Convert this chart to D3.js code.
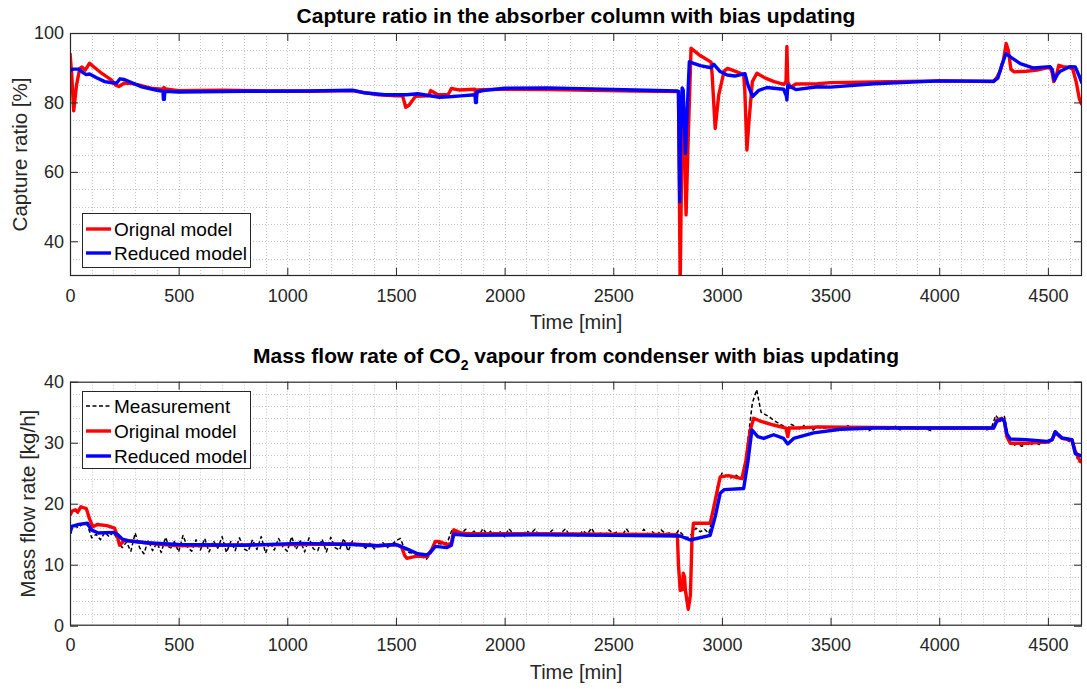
<!DOCTYPE html>
<html>
<head>
<meta charset="utf-8">
<script src="https://cdn.jsdelivr.net/npm/d3@7"></script>
<style>
  html, body { margin: 0; padding: 0; background: #fff; }
  svg { display: block; font-family: "Liberation Sans", Arial, Helvetica, sans-serif; }
</style>
</head>
<body>
<svg id="chart" width="1087" height="689"></svg>
<script>
// ---------------- DATA ----------------
const xTicks = [0, 500, 1000, 1500, 2000, 2500, 3000, 3500, 4000, 4500];
const topYTicks = [40, 60, 80, 100];
const botYTicks = [0, 10, 20, 30, 40];

// Top panel: capture ratio [%]
const capOrigT = [0,8,17,30,45,55,70,90,110,150,190,210,225,250,280,320,380,425,432,440,500,700,900,1100,1300,1350,1420,1500,1530,1545,1560,1590,1650,1660,1672,1690,1740,1755,1790,1864,1868,1874,1900,2000,2200,2400,2600,2800,2808,2818,2826,2835,2845,2858,2870,2900,2950,2955,2969,2985,3010,3026,3060,3100,3105,3115,3125,3140,3161,3200,3240,3285,3295,3299,3303,3314,3340,3440,3500,3700,4000,4250,4265,4280,4295,4308,4318,4330,4345,4400,4450,4510,4520,4527,4540,4550,4570,4600,4615,4630,4645,4657];
const capOrigV = [94.2,88,77.6,85,89.8,90.2,89.3,91.3,90.2,88.2,86.5,85.0,84.6,85.6,85.5,85.0,84.0,83.8,84.3,83.9,83.4,83.5,83.3,83.2,83.4,82.9,82.2,81.9,82.0,78.6,79.2,81.8,81.9,83.4,83.0,82.3,82.2,84.0,83.6,83.8,80.5,83.6,83.7,83.8,83.7,83.5,83.3,83.1,28,80,72,47.6,70,95.6,95.0,93.5,91.6,88,72.5,82,89,89.8,89,88.0,84,66.3,75,86,88.4,87.0,86.0,85.2,86,96.1,86,84.3,85.3,85.4,85.7,85.9,86.2,86.0,87.2,89,92,97.0,95,89.5,88.8,89.0,89.3,90.2,88.5,86.0,88.0,90.7,90.3,90.1,89.5,86,81,79.3];
const capRedT = [0,15,40,60,75,90,120,160,200,215,230,250,280,330,400,428,430,434,436,500,800,1100,1300,1350,1450,1550,1600,1650,1700,1760,1800,1864,1866,1870,1872,1900,2000,2200,2400,2600,2795,2800,2806,2810,2817,2822,2832,2850,2900,2950,2962,2990,3024,3060,3106,3120,3141,3170,3207,3250,3284,3296,3299,3303,3315,3340,3440,3500,3700,4000,4250,4270,4290,4308,4330,4373,4434,4510,4520,4530,4545,4557,4600,4626,4645,4657];
const capRedV = [89.2,89.6,89.6,88.6,88.0,88.2,87.2,86.0,85.6,85.6,86.8,86.6,85.8,84.5,83.5,83.2,80.9,80.9,83.2,83.0,83.2,83.3,83.5,82.8,82.2,82.2,82.5,82.0,81.5,81.7,81.9,82.2,80.0,80.0,83.0,83.4,84.1,84.2,83.9,83.6,83.3,83.2,51.4,70,84.2,83.5,65.3,91.7,90.6,90.0,91.0,89.0,87.9,87.6,88.3,85,81.7,83.5,84.3,84.0,83.8,82,80.7,85,84.5,83.7,84.5,84.4,85.4,86.2,86.1,87,91.2,94.1,93.0,91.2,89.9,90.3,89.5,86.4,88.2,89.0,90.3,90.2,87.5,85.5];

// Bottom panel: mass flow rate of CO2 [kg/h]; measurement sampled every 20 min from t = 0
const measStart = 0, measStep = 20;
const measV = [
15.5,16.3,16.1,16.8,16.5,
14.4,15.0,14.1,15.3,14.6,15.4,
13.9,12.8,13.7,12.2,15.2,
12.8,11.8,14.0,12.3,13.6,12.0,14.5,12.5,13.8,12.1,
14.8,12.9,12.2,14.1,12.4,14.3,12.1,13.9,12.7,14.6,
12.0,13.8,12.3,14.4,12.6,12.2,14.1,12.5,14.6,11.9,
13.7,12.4,14.3,12.9,12.2,14.6,12.5,13.9,12.1,14.4,
12.6,12.3,14.2,12.1,14.5,12.8,12.4,14.3,12.2,13.9,
13.0,13.4,12.7,13.5,12.6,13.2,13.6,12.8,13.3,13.9,
14.3,12.6,12.0,11.9,11.6,11.3,10.9,11.8,13.0,13.5,13.2,14.0,15.9,15.4,15.0,
15.8,14.9,15.5,14.7,15.9,15.0,15.6,14.8,15.4,14.6,
15.9,15.0,15.3,14.6,15.6,15.1,15.8,14.7,15.4,15.0,
15.7,14.5,15.2,15.9,14.8,15.3,14.6,15.6,15.0,16.0,
14.7,15.2,14.6,15.7,15.1,15.4,14.7,15.9,14.9,15.3,
14.5,15.8,15.0,15.4,14.8,15.7,15.1,15.2,14.6,15.6,
14.9,14.4,15.0,16.0,15.4,15.8,15.1,
18.5,23.0,25.0,24.6,24.2,24.8,24.3,24.5,30.5,36.5,38.7,35.0,
34.6,34.2,33.6,33.2,32.8,32.3,33.0,32.6,32.2,32.9,32.4,
32.1,32.7,32.3,32.5,32.0,32.6,32.4,32.2,32.8,32.3,
32.1,32.5,32.4,32.0,32.6,32.3,32.5,32.2,32.4,32.7,
32.1,32.4,32.3,32.6,32.2,32.5,32.3,32.0,32.4,32.6,
32.2,32.5,32.3,32.1,32.6,32.4,32.2,32.7,32.3,32.5,
32.1,32.4,
34.5,33.5,34.3,30.5,29.5,29.8,29.4,29.9,29.6,30.1,
29.7,30.0,29.8,30.5,31.6,30.8,30.5,30.2,29.5,26.8];
const flowOrigT = [0,10,25,35,50,75,90,105,125,170,205,215,228,251,300,400,500,700,1000,1300,1420,1500,1525,1540,1550,1596,1643,1665,1681,1700,1735,1755,1766,1800,1828,2135,2500,2795,2800,2808,2818,2822,2828,2832,2845,2855,2862,2869,2946,2960,2992,3030,3092,3110,3130,3146,3180,3238,3295,3303,3310,3346,3450,3700,4000,4250,4265,4288,4300,4311,4327,4400,4496,4520,4534,4545,4565,4611,4626,4649,4657];
const flowOrigV = [18.1,18.8,19.0,18.6,19.5,19.2,17.5,16.2,16.6,16.4,16.0,15.0,13.2,14.0,13.8,13.4,13.1,13.2,13.3,13.4,13.1,13.3,13.0,11.5,11.05,11.4,11.3,12.5,13.8,13.8,13.3,13.5,15.7,15.2,15.1,15.1,15.0,14.9,10,5.8,5.9,8.6,8.0,5.8,2.7,5,14,16.8,16.8,19,24.4,24.6,24.1,27,32,34.0,33.5,32.9,32.4,31.0,32.4,32.4,32.6,32.5,32.4,32.4,33.7,34.0,33.5,31.0,29.9,29.9,30.1,30.5,31.8,31.3,30.7,30.4,28.6,26.9,26.8];
const flowRedT = [0,8,40,80,98,130,200,220,240,270,350,500,800,1060,1300,1412,1500,1550,1600,1643,1665,1681,1735,1755,1766,1828,2135,2500,2808,2854,2946,2970,2992,3010,3100,3120,3138,3165,3192,3238,3284,3303,3330,3422,3545,3700,4000,4250,4265,4288,4300,4311,4327,4400,4496,4520,4534,4545,4565,4611,4626,4657];
const flowRedV = [15.1,16.3,16.6,16.8,15.7,15.2,15.3,14.9,14.2,13.9,13.6,13.3,13.2,13.5,13.3,13.1,13.3,12.6,11.8,11.6,12.3,13.0,12.8,13.2,15.0,14.8,14.9,14.8,14.7,14.05,14.8,18,21.7,22.3,22.5,27,32.1,31.0,30.7,31.3,30.7,29.8,30.7,31.6,32.2,32.4,32.4,32.4,33.5,33.9,33.5,31.5,30.6,30.5,30.2,30.5,31.8,31.4,30.8,30.5,28.2,27.8];

// ---------------- DRAWING ----------------
const svg = d3.select("#chart");
const axL = 70, axR = 1082;
const xMax = 4657;
const axisColor = "#262626";
const font = "'Liberation Sans', Arial, Helvetica, sans-serif";

function zip(t, v) { return t.map((d, i) => [d, v[i]]); }

function panel(opts) {
  const g = svg.append("g");
  const x = d3.scaleLinear().domain([0, xMax]).range([axL, axR]);
  const y = d3.scaleLinear().domain(opts.yDomain).range([opts.bottom, opts.top]);
  const clipId = "clip" + opts.id;
  svg.append("clipPath").attr("id", clipId).append("rect")
    .attr("x", axL).attr("y", opts.top).attr("width", axR - axL).attr("height", opts.bottom - opts.top);

  // grid (dotted, major + minor)
  const gx = d3.range(100, xMax, 100);
  const gy = d3.range(opts.yDomain[0] + opts.minorY, opts.yDomain[1], opts.minorY);
  const grid = g.append("g").attr("stroke", "#c4c4c4").attr("stroke-width", 1).attr("stroke-dasharray", "1,2");
  grid.selectAll("line.vx").data(gx).join("line")
    .attr("x1", d => Math.round(x(d)) + 0.5).attr("x2", d => Math.round(x(d)) + 0.5)
    .attr("y1", opts.top).attr("y2", opts.bottom);
  grid.selectAll("line.hy").data(gy).join("line")
    .attr("y1", d => Math.round(y(d)) + 0.5).attr("y2", d => Math.round(y(d)) + 0.5)
    .attr("x1", axL).attr("x2", axR);

  // series
  const line = d3.line().x(d => x(d[0])).y(d => y(d[1]));
  const lines = g.append("g").attr("clip-path", `url(#${clipId})`);
  opts.series.forEach(s => {
    lines.append("path").datum(s.data).attr("d", line)
      .attr("fill", "none").attr("stroke", s.color).attr("stroke-width", s.width)
      .attr("stroke-dasharray", s.dash || null).attr("stroke-linejoin", "round");
  });

  // axes with inward ticks (mirrored)
  const tickLen = 8;
  const fmt = d3.format("d");
  const styleAxis = sel => {
    sel.selectAll(".domain").remove();
    sel.selectAll("line").attr("stroke", axisColor);
    sel.selectAll("text").attr("fill", axisColor).attr("font-size", 18).attr("font-family", font);
  };
  g.append("g").attr("transform", `translate(0,${opts.bottom})`)
    .call(d3.axisBottom(x).tickValues(xTicks).tickFormat(fmt).tickSizeInner(-tickLen).tickSizeOuter(0).tickPadding(13))
    .call(styleAxis);
  g.append("g").attr("transform", `translate(0,${opts.top})`)
    .call(d3.axisTop(x).tickValues(xTicks).tickSizeInner(-tickLen).tickSizeOuter(0).tickFormat(""))
    .call(styleAxis);
  g.append("g").attr("transform", `translate(${axL},0)`)
    .call(d3.axisLeft(y).tickValues(opts.yTicks).tickFormat(fmt).tickSizeInner(-tickLen).tickSizeOuter(0).tickPadding(6))
    .call(styleAxis);
  g.append("g").attr("transform", `translate(${axR},0)`)
    .call(d3.axisRight(y).tickValues(opts.yTicks).tickSizeInner(-tickLen).tickSizeOuter(0).tickFormat(""))
    .call(styleAxis);

  // box
  g.append("rect").attr("x", axL + 0.5).attr("y", opts.top + 0.5)
    .attr("width", axR - axL - 1).attr("height", opts.bottom - opts.top - 1)
    .attr("fill", "none").attr("stroke", axisColor).attr("stroke-width", 1.2);

  // x label
  g.append("text").attr("x", (axL + axR) / 2).attr("y", opts.xLabelY)
    .attr("text-anchor", "middle").attr("font-size", 20).attr("fill", axisColor)
    .attr("font-family", font).text("Time [min]");
  // y label
  g.append("text").attr("transform", `translate(${opts.yLabelX},${(opts.top + opts.bottom) / 2}) rotate(-90)`)
    .attr("text-anchor", "middle").attr("font-size", 20.5).attr("fill", axisColor)
    .attr("font-family", font).text(opts.yLabel);

  // legend
  const lg = g.append("g");
  lg.append("rect").attr("x", opts.legend.x + 0.5).attr("y", opts.legend.y + 0.5)
    .attr("width", opts.legend.w).attr("height", opts.legend.h)
    .attr("fill", "#fff").attr("stroke", axisColor).attr("stroke-width", 1);
  opts.legend.items.forEach((it, i) => {
    const cy = opts.legend.rowY[i];
    lg.append("line").attr("x1", opts.legend.x + 4).attr("x2", opts.legend.x + 29)
      .attr("y1", cy).attr("y2", cy).attr("stroke", it.color).attr("stroke-width", it.width)
      .attr("stroke-dasharray", it.dash || null);
    lg.append("text").attr("x", opts.legend.x + 32).attr("y", cy).attr("dy", "0.35em")
      .attr("font-size", 19).attr("fill", "#000").attr("font-family", font).text(it.label);
  });
  return g;
}

// top panel
panel({
  id: "top", top: 33, bottom: 276, yDomain: [30, 100], yTicks: topYTicks, minorY: 5,
  xLabelY: 329, yLabelX: 27, yLabel: "Capture ratio [%]",
  series: [
    { data: zip(capOrigT, capOrigV), color: "#ff0000", width: 3.4 },
    { data: zip(capRedT, capRedV), color: "#0000ff", width: 3.4 }
  ],
  legend: { x: 82, y: 213, w: 168, h: 54, rowY: [229, 253],
    items: [
      { label: "Orignal model", color: "#ff0000", width: 3.4 },
      { label: "Reduced model", color: "#0000ff", width: 3.4 }
    ] }
});

// bottom panel
panel({
  id: "bot", top: 381.7, bottom: 625.7, yDomain: [0, 40], yTicks: botYTicks, minorY: 2,
  xLabelY: 679, yLabelX: 35, yLabel: "Mass flow rate [kg/h]",
  series: [
    { data: measV.map((v, i) => [measStart + i * measStep, v]), color: "#000", width: 1.5, dash: "4,2.5" },
    { data: zip(flowOrigT, flowOrigV), color: "#ff0000", width: 3.4 },
    { data: zip(flowRedT, flowRedV), color: "#0000ff", width: 3.4 }
  ],
  legend: { x: 82, y: 391, w: 168, h: 77, rowY: [406, 431, 456],
    items: [
      { label: "Measurement", color: "#000", width: 1.5, dash: "4,2.5" },
      { label: "Original model", color: "#ff0000", width: 3.4 },
      { label: "Reduced model", color: "#0000ff", width: 3.4 }
    ] }
});

// titles
svg.append("text").attr("x", (axL + axR) / 2).attr("y", 23).attr("text-anchor", "middle")
  .attr("font-size", 21).attr("font-weight", "bold").attr("font-family", font).attr("fill", "#000")
  .text("Capture ratio in the absorber column with bias updating");
const t2 = svg.append("text").attr("x", (axL + axR) / 2).attr("y", 363).attr("text-anchor", "middle")
  .attr("font-size", 21).attr("font-weight", "bold").attr("font-family", font).attr("fill", "#000");
t2.append("tspan").text("Mass flow rate of CO");
t2.append("tspan").attr("font-size", 14).attr("dy", 7).text("2");
t2.append("tspan").attr("dy", -7).text(" vapour from condenser with bias updating");
</script>
</body>
</html>
